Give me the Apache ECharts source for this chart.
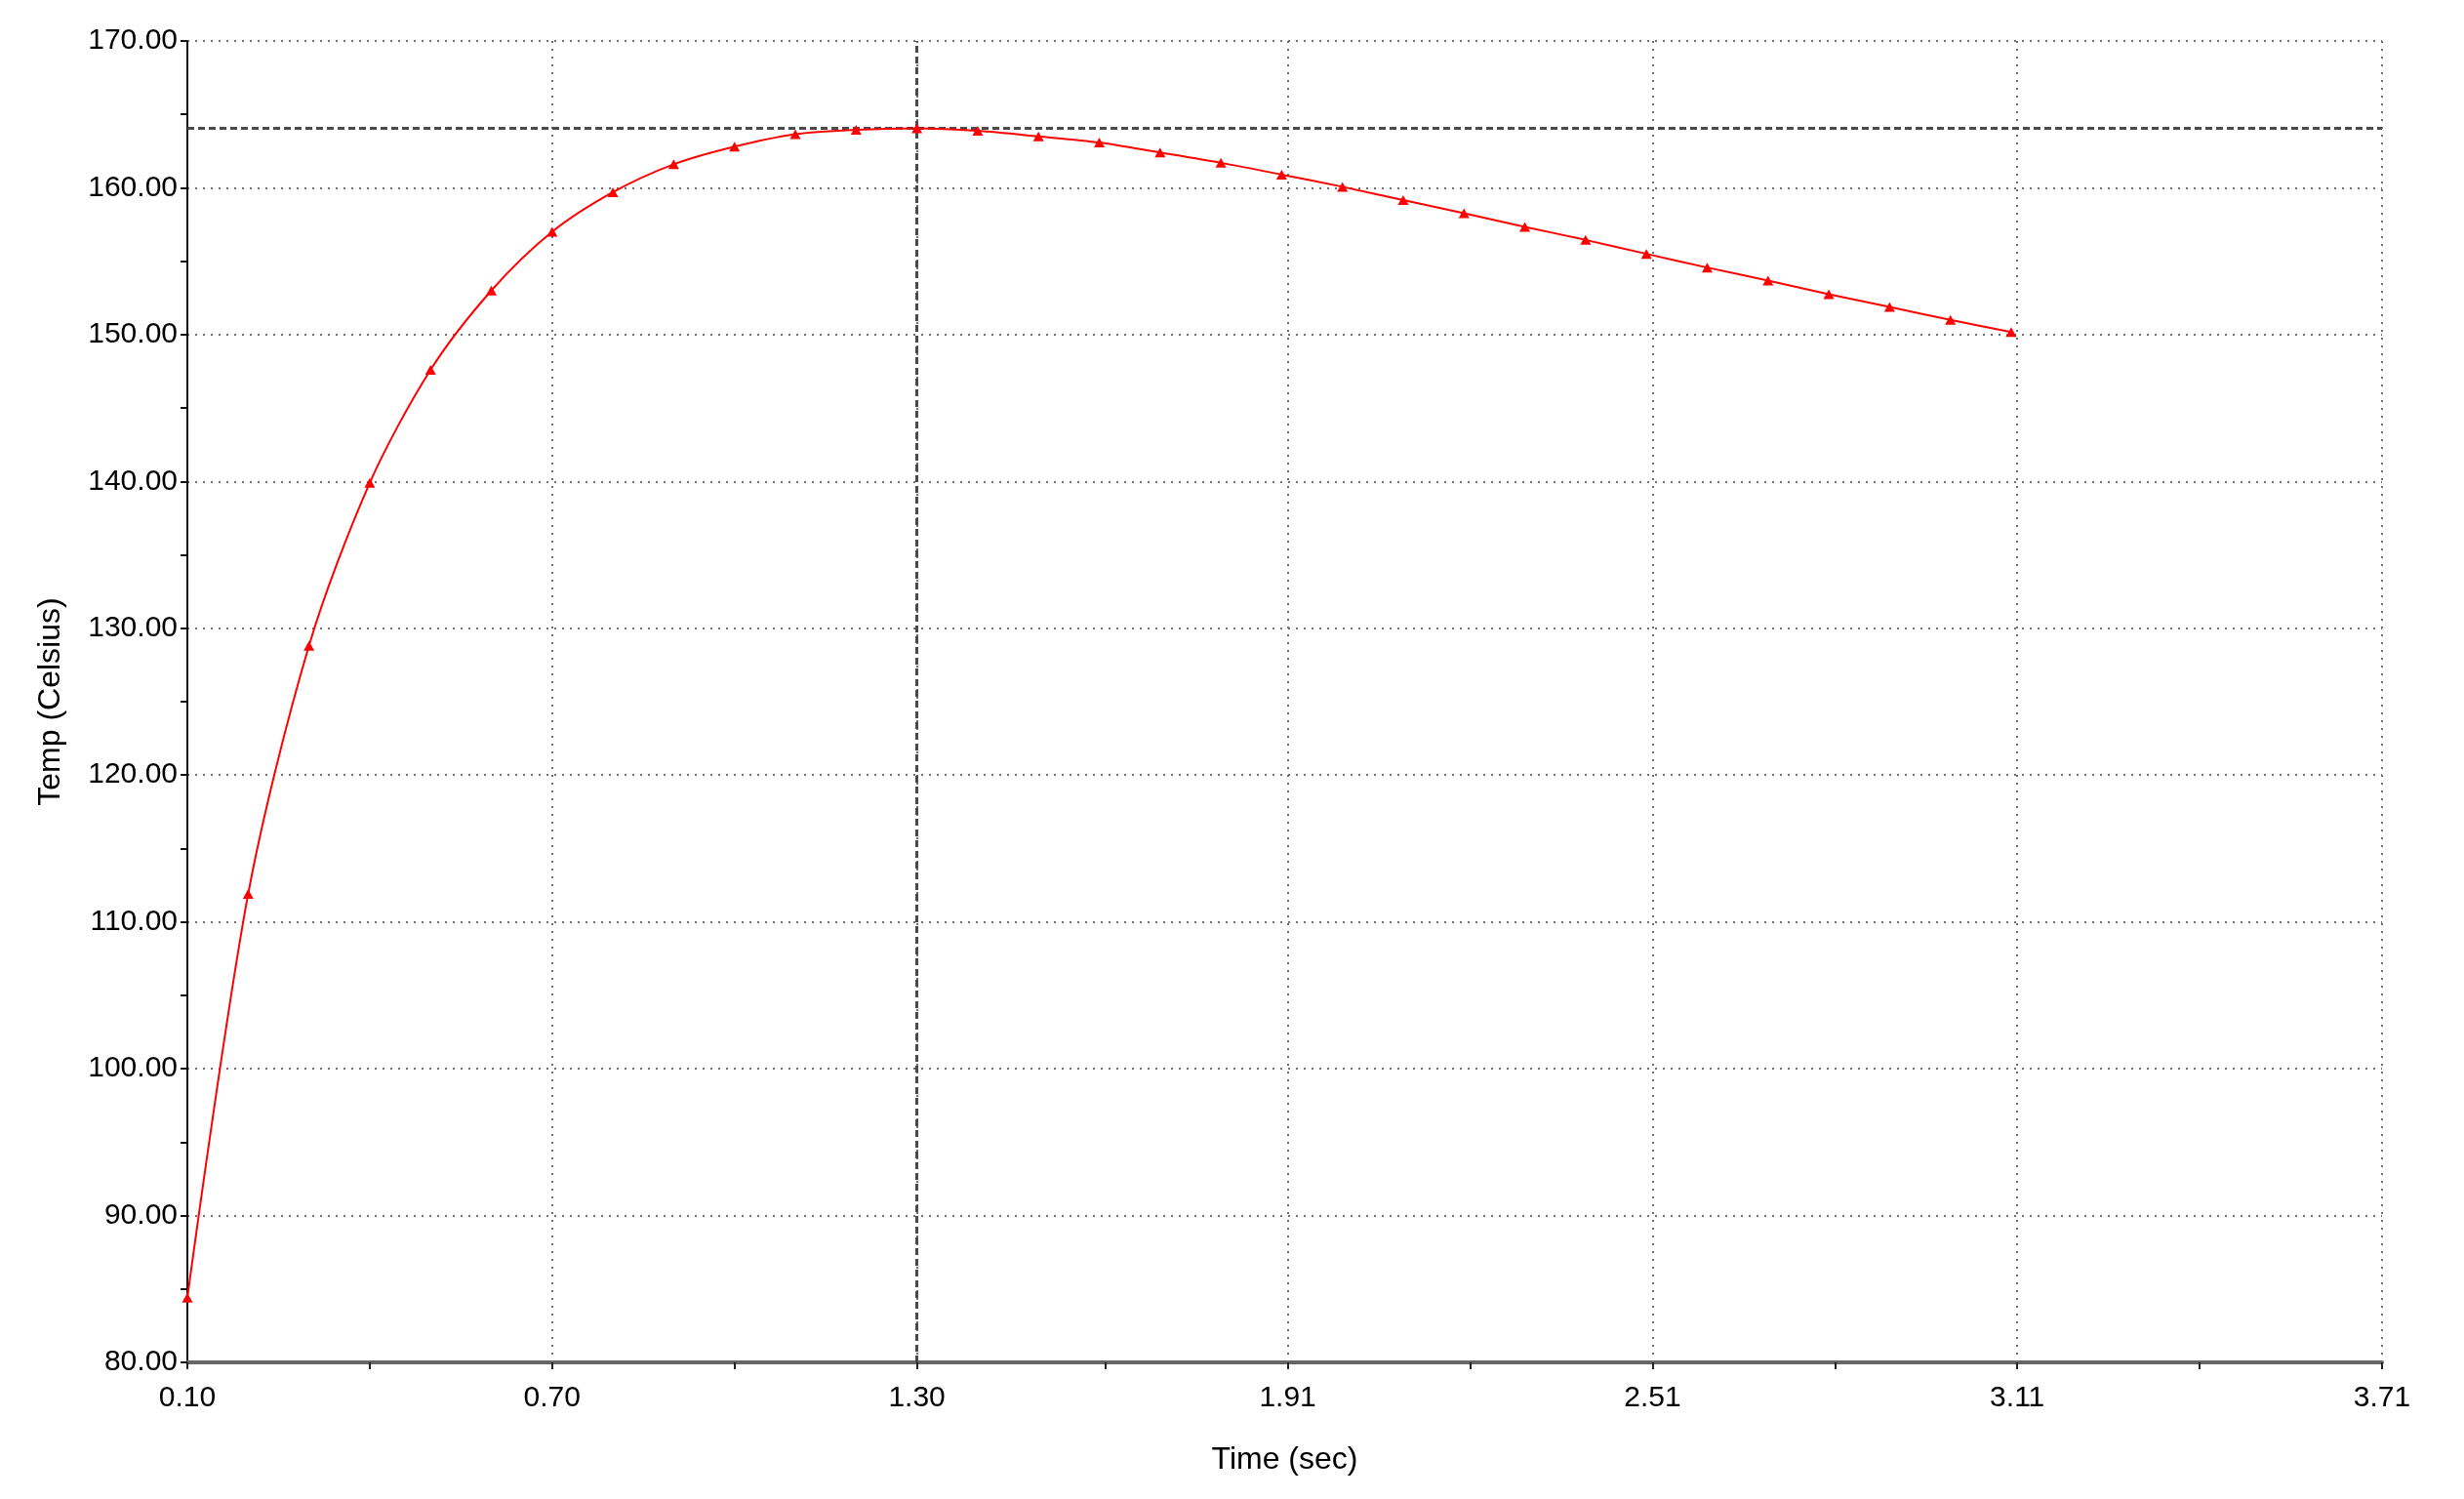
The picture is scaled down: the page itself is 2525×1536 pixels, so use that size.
<!DOCTYPE html>
<html>
<head>
<meta charset="utf-8">
<script src="https://cdn.jsdelivr.net/npm/echarts@6/dist/echarts.min.js"></script>
<style>
html,body{margin:0;padding:0;background:#fff;}
#chart{width:2525px;height:1536px;}
</style>
</head>
<body>
<div id="chart"></div>
<script>
// ---- data ----
const timeSec = [0.1,0.2,0.3,0.4,0.5,0.6,0.7,0.8,0.9,1.0,1.1,1.2,1.3,1.4,1.5,1.6,1.7,1.8,1.9,2.0,2.1,2.2,2.3,2.4,2.5,2.6,2.7,2.8,2.9,3.0,3.1];
const tempC = [84.4,111.9,128.8,139.9,147.6,153.0,157.0,159.7,161.6,162.8,163.65,163.95,164.05,163.88,163.5,163.08,162.4,161.7,160.9,160.07,159.16,158.27,157.34,156.45,155.5,154.57,153.68,152.75,151.89,151.0,150.18];
const xTickLabels = [0.10,0.70,1.30,1.91,2.51,3.11,3.71];
const xMinorTicks = [0.40,1.00,1.61,2.21,2.81,3.41];
const peakTime = 1.30;
const peakTemp = 164.05;
const yMin = 80, yMax = 170, yStep = 10;

const font = 'Liberation Sans, Arial, sans-serif';
const gridDot = {color:'#707070', width:2, type:[2,6]};
const crossDash = {color:'#4a4a4a', width:3, type:[7,4]};

const points = timeSec.map((t,i)=>[t,tempC[i]]);
const vGrid = xTickLabels.slice(1).map(v=>({xAxis:v, lineStyle:gridDot}));

const chart = echarts.init(document.getElementById('chart'), null, {renderer:'canvas'});
chart.setOption({
  backgroundColor:'#ffffff',
  animation:false,
  grid:{left:192, right:84, top:42, bottom:140, containLabel:false},
  xAxis:{
    type:'value', min:xTickLabels[0], max:xTickLabels[xTickLabels.length-1],
    name:'Time (sec)', nameLocation:'middle', nameGap:84,
    nameTextStyle:{fontFamily:font, fontSize:32, color:'#000'},
    axisLine:{show:true, onZero:false, lineStyle:{color:'#666', width:4}},
    axisTick:{show:true, customValues:xTickLabels.concat(xMinorTicks), length:7, lineStyle:{color:'#222', width:2}},
    axisLabel:{customValues:xTickLabels, formatter:v=>Number(v).toFixed(2), fontFamily:font, fontSize:30, color:'#000', margin:22},
    splitLine:{show:false}
  },
  yAxis:{
    type:'value', min:yMin, max:yMax, interval:yStep,
    name:'Temp (Celsius)', nameLocation:'middle', nameGap:124, nameRotate:90,
    nameTextStyle:{fontFamily:font, fontSize:32, color:'#000'},
    axisLine:{show:true, lineStyle:{color:'#111', width:2}},
    axisTick:{show:true, length:7, lineStyle:{color:'#111', width:2}},
    minorTick:{show:true, splitNumber:2, length:7, lineStyle:{color:'#111', width:2}},
    axisLabel:{formatter:v=>Number(v).toFixed(2), fontFamily:font, fontSize:30, color:'#000', margin:10},
    splitLine:{show:true, lineStyle:gridDot}
  },
  series:[{
    type:'line',
    data:points,
    smooth:0.3,
    symbol:'triangle',
    symbolSize:[11,10],
    itemStyle:{color:'#ff0000'},
    lineStyle:{color:'#ff0000', width:2},
    z:5,
    markLine:{
      silent:true, symbol:'none', label:{show:false}, animation:false,
      data: vGrid.concat([
        {xAxis:peakTime, lineStyle:crossDash},
        {yAxis:peakTemp, lineStyle:crossDash}
      ])
    }
  }]
});
</script>
</body>
</html>
